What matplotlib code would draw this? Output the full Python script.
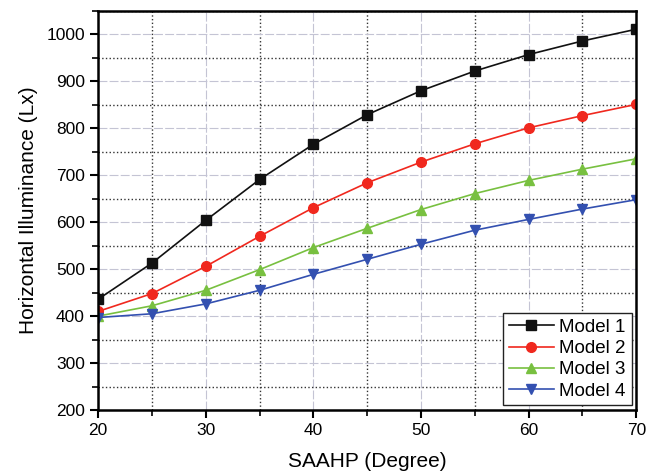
import matplotlib
matplotlib.use("Agg")
import matplotlib.pyplot as plt
from matplotlib.ticker import MultipleLocator

plt.rcParams['font.family'] = ['Liberation Sans', 'DejaVu Sans']

# SAAHP angle (degree)
saahp = [20, 25, 30, 35, 40, 45, 50, 55, 60, 65, 70]

# horizontal illuminance (Lx) for each model
model1 = [436, 513, 604, 691, 766, 829, 880, 922, 957, 986, 1011]
model2 = [410, 448, 506, 570, 631, 684, 728, 767, 801, 827, 851]
model3 = [400, 422, 455, 499, 546, 587, 627, 661, 689, 713, 735]
model4 = [397, 405, 426, 455, 489, 521, 553, 583, 606, 628, 648]

labels = ["Model 1", "Model 2", "Model 3", "Model 4"]

fig = plt.figure(figsize=(6.46, 4.74), dpi=100)
ax = fig.add_axes([0.152, 0.135, 0.833, 0.842])

ax.plot(saahp, model1, color='#111111', marker='s', ms=6.5, lw=1.2, label=labels[0])
ax.plot(saahp, model2, color='#f0281e', marker='o', ms=7, lw=1.2, label=labels[1])
ax.plot(saahp, model3, color='#78c040', marker='^', ms=7.5, lw=1.2, label=labels[2])
ax.plot(saahp, model4, color='#3350b0', marker='v', ms=7.5, lw=1.2, label=labels[3])

ax.set_xlim(20, 70)
ax.set_ylim(200, 1050)
ax.xaxis.set_major_locator(MultipleLocator(10))
ax.xaxis.set_minor_locator(MultipleLocator(5))
ax.yaxis.set_major_locator(MultipleLocator(100))
ax.yaxis.set_minor_locator(MultipleLocator(50))

ax.grid(True, which='major', color='#c4c4d4', ls='--', lw=0.8, dashes=(8, 2))
ax.grid(True, which='minor', color='#333333', ls=':', lw=1.0)
ax.set_axisbelow(True)

for s in ax.spines.values():
    s.set_linewidth(1.8)
ax.tick_params(which='major', direction='out', length=6, width=1.5, labelsize=12.5)
ax.tick_params(which='minor', direction='out', length=4, width=1.2)

ax.set_xlabel("SAAHP (Degree)", fontsize=15, labelpad=10)
ax.set_ylabel("Horizontal Illuminance (Lx)", fontsize=15, labelpad=6)

leg = ax.legend(loc='lower right', fontsize=13.5, frameon=True, fancybox=False,
                edgecolor='#222222', framealpha=1, handlelength=2.4,
                borderpad=0.3, labelspacing=0.22, handletextpad=0.3,
                borderaxespad=0.25)
leg.get_frame().set_linewidth(1.0)

fig.savefig("out.png", dpi=100)
